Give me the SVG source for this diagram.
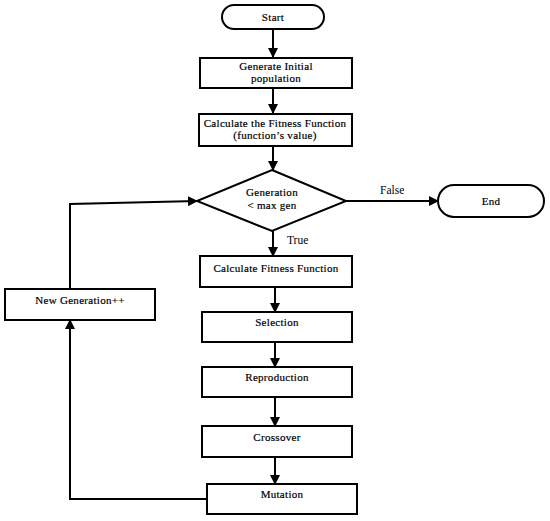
<svg xmlns="http://www.w3.org/2000/svg" width="550" height="521" viewBox="0 0 550 521">
<defs>
<marker id="ah" markerWidth="10" markerHeight="10" refX="9" refY="5" orient="auto" markerUnits="userSpaceOnUse">
<path d="M0,0 L10,5 L0,10 Z" fill="#000"/>
</marker>
</defs>
<style>
.b{fill:#fff;stroke:#000;stroke-width:2}
.t{font-family:'Liberation Serif','Times New Roman',serif;font-size:11px;letter-spacing:0.3px;text-anchor:middle;fill:#000;stroke:#000;stroke-width:0.2}
.l{font-family:'Liberation Serif','Times New Roman',serif;font-size:11.5px;fill:#000}
.c{fill:none;stroke:#000;stroke-width:2}
</style>
<rect width="550" height="521" fill="#fff"/>
<g id="connectors">
<line class="c" x1="273" y1="29" x2="273" y2="57" marker-end="url(#ah)"/>
<line class="c" x1="273" y1="88" x2="273" y2="113" marker-end="url(#ah)"/>
<line class="c" x1="273" y1="146" x2="273" y2="170" marker-end="url(#ah)"/>
<line class="c" x1="346" y1="201" x2="438" y2="201" marker-end="url(#ah)"/>
<line class="c" x1="273" y1="231" x2="273" y2="256" marker-end="url(#ah)"/>
<line class="c" x1="275" y1="287" x2="275" y2="312" marker-end="url(#ah)"/>
<line class="c" x1="275" y1="342" x2="275" y2="367" marker-end="url(#ah)"/>
<line class="c" x1="275" y1="397" x2="275" y2="426" marker-end="url(#ah)"/>
<line class="c" x1="275" y1="457" x2="275" y2="484" marker-end="url(#ah)"/>
<polyline class="c" points="207,499 70,499 70,320" marker-end="url(#ah)"/>
<polyline class="c" points="70,289 70,204 197,201" marker-end="url(#ah)"/>
<text class="l" x="380" y="194">False</text>
<text class="l" x="287" y="244">True</text>
</g>
<g id="start">
<rect class="b" x="222" y="5" width="102" height="24" rx="12"/>
<text class="t" x="273" y="20.5">Start</text>
</g>
<g id="generate">
<rect class="b" x="200" y="58" width="152" height="30"/>
<text class="t" x="276" y="70">Generate Initial</text>
<text class="t" x="276" y="82">population</text>
</g>
<g id="calc1">
<rect class="b" x="199" y="114" width="153" height="32"/>
<text class="t" x="275" y="127">Calculate the Fitness Function</text>
<text class="t" x="275" y="139">(function’s value)</text>
</g>
<g id="decision">
<polygon class="b" points="272,170 346,201 272,231 197,201"/>
<text class="t" x="272" y="196">Generation</text>
<text class="t" x="272" y="209">&lt; max gen</text>
</g>
<g id="end">
<rect class="b" x="438" y="185" width="106" height="32" rx="16"/>
<text class="t" x="491" y="204.5">End</text>
</g>
<g id="calc2">
<rect class="b" x="200" y="256" width="152" height="31"/>
<text class="t" x="276" y="272" letter-spacing="0.6">Calculate Fitness Function</text>
</g>
<g id="selection">
<rect class="b" x="202" y="312" width="150" height="30"/>
<text class="t" x="277" y="326">Selection</text>
</g>
<g id="reproduction">
<rect class="b" x="202" y="367" width="150" height="30"/>
<text class="t" x="277" y="381">Reproduction</text>
</g>
<g id="crossover">
<rect class="b" x="202" y="426" width="150" height="31"/>
<text class="t" x="277" y="441">Crossover</text>
</g>
<g id="mutation">
<rect class="b" x="207" y="484" width="150" height="30"/>
<text class="t" x="282" y="498">Mutation</text>
</g>
<g id="newgen">
<rect class="b" x="5" y="289" width="150" height="31"/>
<text class="t" x="80" y="304">New Generation++</text>
</g>
</svg>
